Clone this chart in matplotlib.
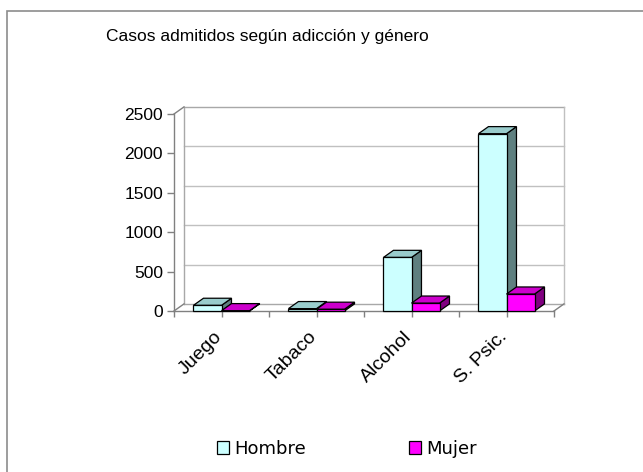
import matplotlib
matplotlib.use("Agg")
import matplotlib.pyplot as plt
from matplotlib.patches import Polygon, Rectangle, Patch

plt.rcParams["font.family"] = ["Liberation Sans", "DejaVu Sans"]

# --- Data ---
categories = ["Juego", "Tabaco", "Alcohol", "S. Psic."]
hombre     = [72, 30, 680, 2250]
mujer      = [4, 22, 100, 215]
series     = ["Hombre", "Mujer"]
yticks     = [0, 500, 1000, 1500, 2000, 2500]

# face colours: front, top, side
colors = {
    "Hombre": ("#CCFFFF", "#99CCCC", "#5F8080"),
    "Mujer":  ("#FF00FF", "#CC00CC", "#800080"),
}

# --- Fake 3D geometry (data units) ---
DX = 0.105     # depth shift along x (categories)
DY = 90        # depth shift along y (values)
BAR_W = 0.295
YMAX = 2500
NCAT = len(categories)

GRID = "#C0C0C0"
AXC  = "#808080"

fig = plt.figure(figsize=(6.43, 4.72), dpi=100)
fig.patch.set_facecolor("white")

# chart border (right/bottom edges fall outside the picture)
fig.patches.append(Rectangle((7 / 643, -0.1), 1.2, (472 - 11) / 472 + 0.1,
                             transform=fig.transFigure, fill=False,
                             edgecolor="#8C8C8C", linewidth=1.2))

ax = fig.add_axes([174 / 643, 161 / 472, 380 / 643, 197 / 472])
ax.set_xlim(0, NCAT)
ax.set_ylim(0, YMAX)
ax.patch.set_visible(False)

# back wall: gridlines and edges
for v in yticks:
    ax.plot([DX, NCAT + DX], [v + DY, v + DY], color=GRID if v not in (0, YMAX) else "#A8A8A8",
            lw=1.0, clip_on=False, zorder=1)
ax.plot([DX, DX], [DY, YMAX + DY], color="#A8A8A8", lw=1.0, clip_on=False, zorder=1)
ax.plot([NCAT + DX, NCAT + DX], [DY, YMAX + DY], color=GRID, lw=1.0, clip_on=False, zorder=1)

# side wall / floor diagonals
ax.plot([0, DX], [0, DY], color=AXC, lw=1.0, clip_on=False, zorder=1)
ax.plot([0, DX], [YMAX, YMAX + DY], color=AXC, lw=1.0, clip_on=False, zorder=1)
ax.plot([NCAT, NCAT + DX], [0, DY], color=AXC, lw=1.0, clip_on=False, zorder=1)

# bars
for s, vals in enumerate([hombre, mujer]):
    front, top, side = colors[series[s]]
    for i, v in enumerate(vals):
        x0 = i + 0.5 - BAR_W + s * BAR_W
        x1 = x0 + BAR_W
        kw = dict(edgecolor="black", linewidth=0.9, clip_on=False, zorder=3 + i * 2 + s)
        ax.add_patch(Polygon([(x1, 0), (x1 + DX, DY), (x1 + DX, v + DY), (x1, v)],
                             facecolor=side, **kw))
        ax.add_patch(Polygon([(x0, v), (x1, v), (x1 + DX, v + DY), (x0 + DX, v + DY)],
                             facecolor=top, **kw))
        ax.add_patch(Rectangle((x0, 0), BAR_W, v, facecolor=front, **kw))

# axes
for side_name in ["top", "right"]:
    ax.spines[side_name].set_visible(False)
for side_name in ["left", "bottom"]:
    ax.spines[side_name].set_color(AXC)
    ax.spines[side_name].set_linewidth(1.0)
    ax.spines[side_name].set_zorder(2)

ax.set_yticks(yticks)
ax.set_yticklabels([str(v) for v in yticks], fontsize=12.5)
ax.tick_params(axis="y", length=5, width=1.0, color=AXC, pad=3)

centers = [i + 0.5 for i in range(NCAT)]
ax.set_xticks(centers)
ax.set_xticklabels([])
ax.set_xticks(range(NCAT + 1), minor=True)
ax.tick_params(axis="x", which="both", length=4, width=1.0, color=AXC)

for c, name in zip(centers, categories):
    ax.annotate(name, xy=(c, 0), xytext=(-8, -17), textcoords="offset pixels",
                rotation=45, ha="right", va="top", rotation_mode="anchor",
                fontsize=14)

fig.text(267 / 643, 1 - 36 / 472, "Casos admitidos según adicción y género",
         ha="center", va="center", fontsize=12.5)

handles = [Patch(facecolor=colors[n][0], edgecolor="black", linewidth=0.9) for n in series]
fig.legend(handles, series, loc="center", bbox_to_anchor=(347 / 643, 1 - 449 / 472),
           ncol=2, frameon=False, prop={"family": "DejaVu Sans", "size": 13},
           handlelength=0.67, handleheight=0.7, handletextpad=0.28, columnspacing=5.7)

fig.savefig("out.png", dpi=100)
